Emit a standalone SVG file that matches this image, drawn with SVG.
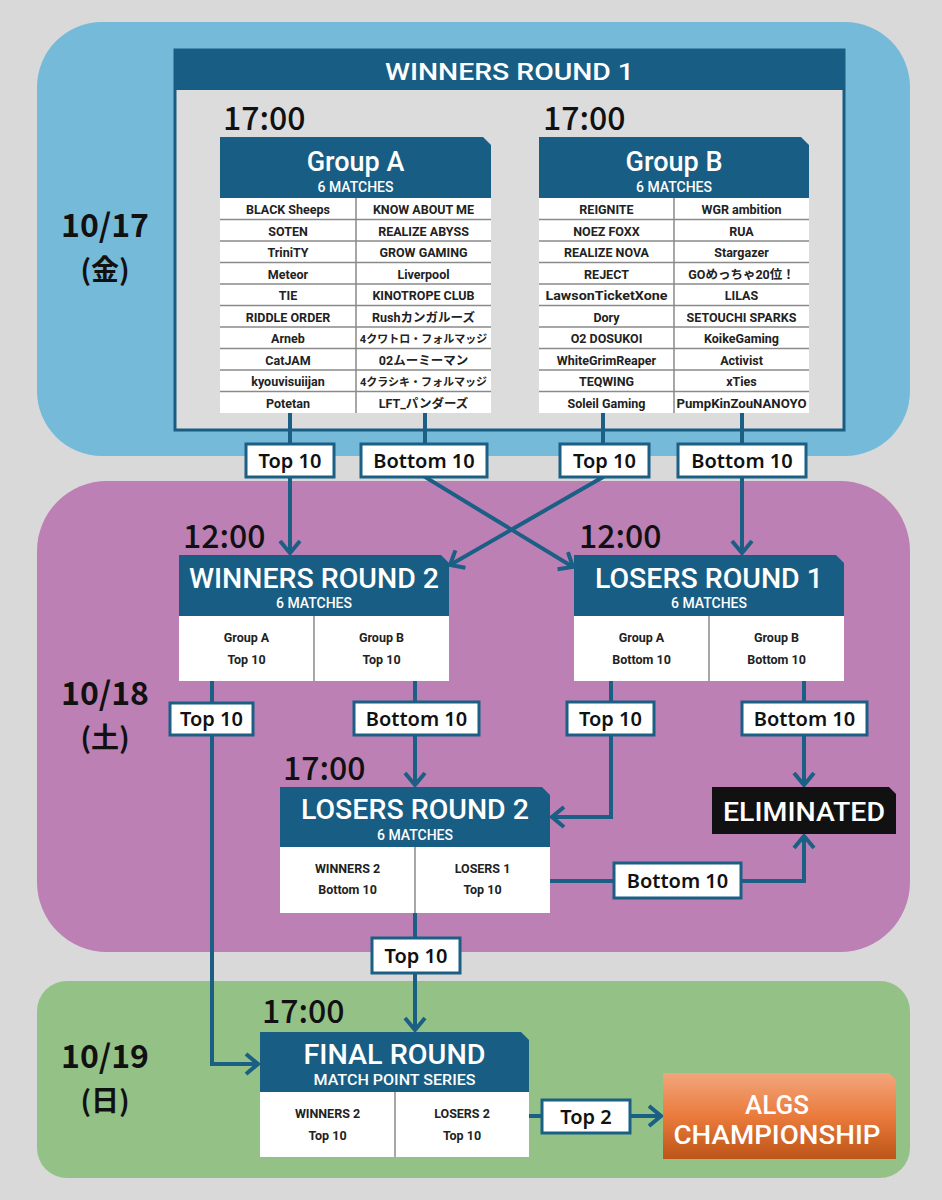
<svg xmlns="http://www.w3.org/2000/svg" width="942" height="1200" viewBox="0 0 942 1200">
<defs>
<style>
.bg{fill:#d9d9d9}
.hd{fill:#185e84}
.bd{fill:#ffffff}
.sep{stroke:#8a8a8a;stroke-width:1.5}
.t{font-family:Roboto,"Liberation Sans","Noto Sans CJK JP",sans-serif;text-anchor:middle}
.title{fill:#ffffff;font-weight:500}
.sub{fill:#ffffff;font-weight:500;font-size:14px}
.row{fill:#222;font-weight:700;font-size:12.5px}
.jp{font-size:11px}
.cell{fill:#222;font-weight:700;font-size:12.5px}
.time{font-family:"Noto Sans CJK JP","Noto Sans",sans-serif;font-weight:500;font-size:32px;fill:#111}
.date{font-family:"Noto Sans CJK JP","Noto Sans",sans-serif;font-weight:700;fill:#111;text-anchor:middle}
.ln{fill:none;stroke:#1b5f84;stroke-width:4}
.lb{fill:#ffffff;stroke:#1b5f84;stroke-width:3}
.lt{font-family:"Noto Sans","Noto Sans CJK JP",sans-serif;font-weight:600;font-size:20px;fill:#111;text-anchor:middle}
</style>
<marker id="ah" viewBox="0 0 16 24" refX="14" refY="12" markerWidth="16" markerHeight="24" markerUnits="userSpaceOnUse" orient="auto">
<path d="M2,2 L14,12 L2,22" fill="none" stroke="#1b5f84" stroke-width="4"/>
</marker>
<linearGradient id="og" x1="0" y1="0" x2="0" y2="1">
<stop offset="0" stop-color="#f2a67c"/>
<stop offset="0.5" stop-color="#ea7b3c"/>
<stop offset="1" stop-color="#bd5418"/>
</linearGradient>
</defs>

<rect class="bg" x="0" y="0" width="942" height="1200"/>

<g id="bands">
<rect x="37" y="22" width="873" height="434" rx="65" fill="#75bbd9"/>
<rect x="37" y="481" width="873" height="471" rx="70" fill="#bd80b5"/>
<rect x="37" y="981" width="873" height="197" rx="30" fill="#94c286"/>
</g>

<g id="dates">
<text class="date" x="105" y="237" font-size="32">10/17</text>
<text class="date" x="105" y="280" font-size="28">(金)</text>
<text class="date" x="105" y="705" font-size="32">10/18</text>
<text class="date" x="105" y="748" font-size="28">(土)</text>
<text class="date" x="105" y="1068" font-size="32">10/19</text>
<text class="date" x="105" y="1111" font-size="28">(日)</text>
</g>

<g id="winners-round-1">
<rect x="175" y="50" width="669" height="380" fill="#dcdcdc" stroke="#185e84" stroke-width="3"/>
<rect class="hd" x="175" y="50" width="669" height="40"/>
<text class="t title" x="509.5" y="80" font-size="24" textLength="249" lengthAdjust="spacingAndGlyphs">WINNERS ROUND 1</text>
</g>

<g id="group-a">
<text class="time" x="223" y="130">17:00</text>
<path class="hd" d="M220,137 H483 L491,145 V198 H220 Z"/>
<text class="t title" x="355.5" y="171" font-size="27">Group A</text>
<text class="t sub" x="355.5" y="192">6 MATCHES</text>
<rect class="bd" x="220" y="198" width="271" height="215"/>
<g class="sep">
<line x1="220" y1="219.5" x2="491" y2="219.5"/>
<line x1="220" y1="241" x2="491" y2="241"/>
<line x1="220" y1="262.5" x2="491" y2="262.5"/>
<line x1="220" y1="284" x2="491" y2="284"/>
<line x1="220" y1="305.5" x2="491" y2="305.5"/>
<line x1="220" y1="327" x2="491" y2="327"/>
<line x1="220" y1="348.5" x2="491" y2="348.5"/>
<line x1="220" y1="370" x2="491" y2="370"/>
<line x1="220" y1="391.5" x2="491" y2="391.5"/>
<line x1="356" y1="198" x2="356" y2="413"/>
</g>
<g class="t row">
<text x="288" y="214">BLACK Sheeps</text><text x="423.5" y="214">KNOW ABOUT ME</text>
<text x="288" y="235.5">SOTEN</text><text x="423.5" y="235.5">REALIZE ABYSS</text>
<text x="288" y="257">TriniTY</text><text x="423.5" y="257">GROW GAMING</text>
<text x="288" y="278.5">Meteor</text><text x="423.5" y="278.5">Liverpool</text>
<text x="288" y="300">TIE</text><text x="423.5" y="300">KINOTROPE CLUB</text>
<text x="288" y="321.5">RIDDLE ORDER</text><text x="423.5" y="321.5">Rushカンガルーズ</text>
<text x="288" y="343">Arneb</text><text class="jp" x="423.5" y="343">4クワトロ・フォルマッジ</text>
<text x="288" y="364.5">CatJAM</text><text x="423.5" y="364.5">02ムーミーマン</text>
<text x="288" y="386">kyouvisuiijan</text><text class="jp" x="423.5" y="386">4クラシキ・フォルマッジ</text>
<text x="288" y="407.5">Potetan</text><text x="423.5" y="407.5">LFT_パンダーズ</text>
</g>
</g>

<g id="group-b">
<text class="time" x="543" y="130">17:00</text>
<path class="hd" d="M539,137 H801 L809,145 V198 H539 Z"/>
<text class="t title" x="674" y="171" font-size="27">Group B</text>
<text class="t sub" x="674" y="192">6 MATCHES</text>
<rect class="bd" x="539" y="198" width="270" height="215"/>
<g class="sep">
<line x1="539" y1="219.5" x2="809" y2="219.5"/>
<line x1="539" y1="241" x2="809" y2="241"/>
<line x1="539" y1="262.5" x2="809" y2="262.5"/>
<line x1="539" y1="284" x2="809" y2="284"/>
<line x1="539" y1="305.5" x2="809" y2="305.5"/>
<line x1="539" y1="327" x2="809" y2="327"/>
<line x1="539" y1="348.5" x2="809" y2="348.5"/>
<line x1="539" y1="370" x2="809" y2="370"/>
<line x1="539" y1="391.5" x2="809" y2="391.5"/>
<line x1="674" y1="198" x2="674" y2="413"/>
</g>
<g class="t row">
<text x="606.5" y="214">REIGNITE</text><text x="741.5" y="214">WGR ambition</text>
<text x="606.5" y="235.5">NOEZ FOXX</text><text x="741.5" y="235.5">RUA</text>
<text x="606.5" y="257">REALIZE NOVA</text><text x="741.5" y="257">Stargazer</text>
<text x="606.5" y="278.5">REJECT</text><text x="741.5" y="278.5">GOめっちゃ20位！</text>
<text x="606.5" y="300" textLength="122" lengthAdjust="spacingAndGlyphs">LawsonTicketXone</text><text x="741.5" y="300">LILAS</text>
<text x="606.5" y="321.5">Dory</text><text x="741.5" y="321.5">SETOUCHI SPARKS</text>
<text x="606.5" y="343">O2 DOSUKOI</text><text x="741.5" y="343">KoikeGaming</text>
<text x="606.5" y="364.5">WhiteGrimReaper</text><text x="741.5" y="364.5">Activist</text>
<text x="606.5" y="386">TEQWING</text><text x="741.5" y="386">xTies</text>
<text x="606.5" y="407.5">Soleil Gaming</text><text x="741.5" y="407.5" textLength="130" lengthAdjust="spacingAndGlyphs">PumpKinZouNANOYO</text>
</g>
</g>

<g id="winners-round-2">
<text class="time" x="183" y="548">12:00</text>
<path class="hd" d="M179,555 H441 L449,563 V616 H179 Z"/>
<rect class="bd" x="179" y="616" width="270" height="65"/>
<line class="sep" x1="314" y1="616" x2="314" y2="681"/>
<text class="t title" x="314" y="588" font-size="27" textLength="250" lengthAdjust="spacingAndGlyphs">WINNERS ROUND 2</text>
<text class="t sub" x="314" y="608">6 MATCHES</text>
<text class="t cell" x="246.5" y="642">Group A</text><text class="t cell" x="246.5" y="664">Top 10</text>
<text class="t cell" x="381.5" y="642">Group B</text><text class="t cell" x="381.5" y="664">Top 10</text>
</g>

<g id="losers-round-1">
<text class="time" x="579" y="548">12:00</text>
<path class="hd" d="M574,555 H836 L844,563 V616 H574 Z"/>
<rect class="bd" x="574" y="616" width="270" height="65"/>
<line class="sep" x1="709" y1="616" x2="709" y2="681"/>
<text class="t title" x="709" y="588" font-size="27" textLength="228" lengthAdjust="spacingAndGlyphs">LOSERS ROUND 1</text>
<text class="t sub" x="709" y="608">6 MATCHES</text>
<text class="t cell" x="641.5" y="642">Group A</text><text class="t cell" x="641.5" y="664">Bottom 10</text>
<text class="t cell" x="776.5" y="642">Group B</text><text class="t cell" x="776.5" y="664">Bottom 10</text>
</g>

<g id="losers-round-2">
<text class="time" x="283" y="780">17:00</text>
<path class="hd" d="M280,787 H542 L550,795 V847 H280 Z"/>
<rect class="bd" x="280" y="847" width="270" height="66"/>
<line class="sep" x1="415" y1="847" x2="415" y2="913"/>
<text class="t title" x="415" y="819" font-size="27" textLength="228" lengthAdjust="spacingAndGlyphs">LOSERS ROUND 2</text>
<text class="t sub" x="415" y="840">6 MATCHES</text>
<text class="t cell" x="347.5" y="873">WINNERS 2</text><text class="t cell" x="347.5" y="894">Bottom 10</text>
<text class="t cell" x="482.5" y="873">LOSERS 1</text><text class="t cell" x="482.5" y="894">Top 10</text>
</g>

<g id="eliminated">
<path fill="#111111" d="M712,787 H889 L896,794 V834 H712 Z"/>
<text class="t" x="804" y="821" font-size="26" font-weight="500" fill="#ffffff" textLength="162" lengthAdjust="spacingAndGlyphs">ELIMINATED</text>
</g>

<g id="final-round">
<text class="time" x="262" y="1023">17:00</text>
<path class="hd" d="M260,1032 H521 L529,1040 V1092 H260 Z"/>
<rect class="bd" x="260" y="1092" width="269" height="65"/>
<line class="sep" x1="395" y1="1092" x2="395" y2="1157"/>
<text class="t title" x="394.5" y="1064" font-size="27" textLength="182" lengthAdjust="spacingAndGlyphs">FINAL ROUND</text>
<text class="t sub" x="394.5" y="1085" textLength="162" lengthAdjust="spacingAndGlyphs">MATCH POINT SERIES</text>
<text class="t cell" x="327.5" y="1118">WINNERS 2</text><text class="t cell" x="327.5" y="1140">Top 10</text>
<text class="t cell" x="462" y="1118">LOSERS 2</text><text class="t cell" x="462" y="1140">Top 10</text>
</g>

<g id="algs-championship">
<path fill="url(#og)" d="M663,1073 H889 L896,1080 V1159 H663 Z"/>
<text class="t" x="777" y="1114" font-size="26" font-weight="500" fill="#ffffff">ALGS</text>
<text class="t" x="777" y="1144" font-size="26" font-weight="500" fill="#ffffff" textLength="207" lengthAdjust="spacingAndGlyphs">CHAMPIONSHIP</text>
</g>

<g id="connectors">
<path class="ln" d="M290,413 V553" marker-end="url(#ah)"/>
<path class="ln" d="M425,413 V477 L573,567" marker-end="url(#ah)"/>
<path class="ln" d="M603,413 V477 L450,565" marker-end="url(#ah)"/>
<path class="ln" d="M742,413 V553" marker-end="url(#ah)"/>
<path class="ln" d="M212,681 V1064 H258" marker-end="url(#ah)"/>
<path class="ln" d="M415,681 V785" marker-end="url(#ah)"/>
<path class="ln" d="M611,681 V817 H552" marker-end="url(#ah)"/>
<path class="ln" d="M804,681 V785" marker-end="url(#ah)"/>
<path class="ln" d="M550,881 H804 V836" marker-end="url(#ah)"/>
<path class="ln" d="M415,913 V1030" marker-end="url(#ah)"/>
<path class="ln" d="M529,1116 H661" marker-end="url(#ah)"/>

<rect class="lb" x="246" y="444" width="88" height="33"/><text class="lt" x="290" y="468">Top 10</text>
<rect class="lb" x="361" y="444" width="126" height="33"/><text class="lt" x="424" y="468">Bottom 10</text>
<rect class="lb" x="560" y="444" width="89" height="33"/><text class="lt" x="604.5" y="468">Top 10</text>
<rect class="lb" x="678" y="444" width="128" height="33"/><text class="lt" x="742" y="468">Bottom 10</text>
<rect class="lb" x="170" y="703" width="83" height="32"/><text class="lt" x="211.5" y="726">Top 10</text>
<rect class="lb" x="354" y="702" width="125" height="33"/><text class="lt" x="416.5" y="726">Bottom 10</text>
<rect class="lb" x="567" y="702" width="87" height="33"/><text class="lt" x="610.5" y="726">Top 10</text>
<rect class="lb" x="742" y="702" width="125" height="33"/><text class="lt" x="804.5" y="726">Bottom 10</text>
<rect class="lb" x="614" y="863" width="127" height="35"/><text class="lt" x="677.5" y="888">Bottom 10</text>
<rect class="lb" x="372" y="938" width="88" height="35"/><text class="lt" x="416" y="963">Top 10</text>
<rect class="lb" x="542" y="1100" width="88" height="33"/><text class="lt" x="586" y="1124">Top 2</text>
</g>
</svg>
